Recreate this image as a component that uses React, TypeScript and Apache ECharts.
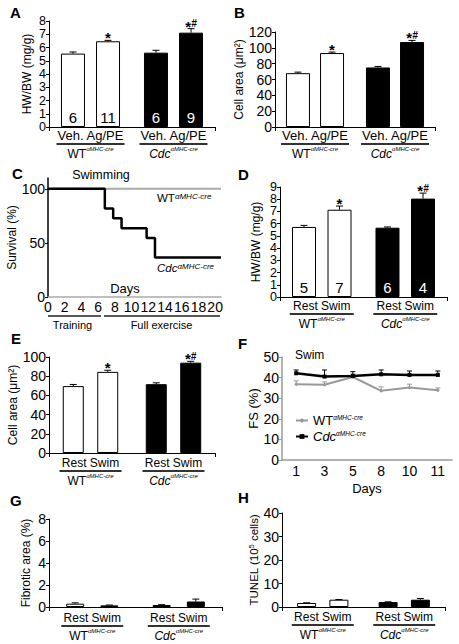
import React, { useEffect, useRef } from 'react';
import * as echarts from 'echarts';

const FONT = '"Liberation Sans", Arial, Helvetica, sans-serif';

// ---------- data ----------
const genotypes = ['WT', 'Cdc'];
const genotypeSup = 'αMHC-cre';
const agTreatments = ['Veh.', 'Ag/PE'];
const swimTreatments = ['Rest', 'Swim'];

// order: WT-first, WT-second, Cdc-first, Cdc-second
const hwbwAg = [5.54, 6.47, 5.61, 7.12];
const hwbwAgErr = [0.12, 0.07, 0.18, 0.3];
const hwbwAgN = ['6', '11', '6', '9'];
const sigMarks = ['', '*', '', '*#'];
const hwbwAgTicks = [0, 1, 2, 3, 4, 5, 6, 7, 8];

const cellAreaAg = [68, 93.4, 75.2, 107.3];
const cellAreaAgErr = [1.3, 1.2, 1.3, 2.1];

const survivalDays = [0, 6.8, 7.8, 8.8, 11.8, 12.8, 20.7];
const survivalCdc = [100, 81.8, 72.7, 63.6, 54.5, 36.4, 36.4];
const survivalWTDays = [0, 20.7];
const survivalWT = [100, 100];
const survivalDayTicks = [0, 2, 4, 6, 8, 10, 12, 14, 16, 18, 20];
const survivalTicks = [0, 50, 100];

const hwbwSwim = [5.73, 7.14, 5.67, 8.05];
const hwbwSwimErr = [0.13, 0.3, 0.06, 0.45];
const hwbwSwimN = ['5', '7', '6', '4'];
const hwbwSwimTicks = [0, 1, 2, 3, 4, 5, 6, 7, 8, 9];

const cellAreaSwim = [69.7, 84.5, 71.7, 94.1];
const cellAreaSwimErr = [1.7, 1.7, 1.4, 1.4];

const fsDays = ['1', '3', '5', '8', '10', '11'];
const fsWT = [36.8, 36.5, 40.3, 33.6, 35.2, 33.9];
const fsWTErr = [1.6, 1.4, 1.5, 1.9, 1.6, 1.1];
const fsCdc = [42.1, 40.5, 40.8, 41.6, 41.3, 41.3];
const fsCdcErr = [1.6, 3.2, 2.1, 2.1, 1.9, 1.9];

const fibrotic = [0.3, 0.15, 0.18, 0.5];
const fibroticErr = [0.08, 0.03, 0.03, 0.22];
const tunel = [1.7, 3.1, 2.1, 3.1];
const tunelErr = [0.1, 0.1, 0.1, 0.5];
const noMarks = ['', '', '', ''];

// ---------- helpers ----------
const TICK = 14;
const evens = (a: number[]) => a.filter((_, i) => i % 2 === 0);
const odds = (a: number[]) => a.filter((_, i) => i % 2 === 1);

const supRich = (gSize: number, sSize: number) => ({
  g: { fontSize: gSize, fontFamily: FONT, color: '#000' },
  gi: { fontSize: gSize, fontFamily: FONT, color: '#000', fontStyle: 'italic' },
  s: { fontSize: sSize, fontFamily: FONT, color: '#000', fontStyle: 'italic', verticalAlign: 'top', lineHeight: sSize + 1 },
});
const genoText = (g: string) => (g === 'Cdc' ? `{gi|${g}}{s|${genotypeSup}}` : `{g|${g}}{s|${genotypeSup}}`);

function catAxis(k: number, treat: string[], tSize: number, ulWidth: number, margin: number) {
  return {
    type: 'category',
    gridIndex: k,
    data: genotypes,
    axisLine: { lineStyle: { color: '#000', width: 1 } },
    axisTick: { show: true, length: 4, interval: (i: number) => i === 1, lineStyle: { color: '#000' } },
    axisLabel: {
      margin,
      interval: 0,
      formatter: (v: string) => `{t|${treat[0]} ${treat[1]}}\n{u| }\n${genoText(v)}`,
      rich: {
        t: { fontSize: tSize, lineHeight: 13, fontFamily: FONT, color: '#000' },
        u: { width: ulWidth, height: 1.8, lineHeight: 4, fontSize: 2, backgroundColor: '#333' },
        g: { fontSize: 12, lineHeight: 15, fontFamily: FONT, color: '#000' },
        gi: { fontSize: 12, lineHeight: 15, fontFamily: FONT, color: '#000', fontStyle: 'italic' },
        s: { fontSize: 6, lineHeight: 8, fontFamily: FONT, color: '#000', fontStyle: 'italic', verticalAlign: 'top' },
      },
    },
  };
}

const labelStyle = { fontSize: TICK, lineHeight: 11, color: '#000', margin: 3, fontFamily: FONT };
const tightLabelStyle = { ...labelStyle, fontSize: 12.5, lineHeight: 10 };

function valAxis(k: number, min: number, max: number, interval: number, name: string, gap: number, extra: any = {}) {
  return {
    type: 'value',
    gridIndex: k,
    position: 'left',
    min,
    max,
    interval,
    name,
    nameLocation: 'middle',
    nameGap: gap,
    nameTextStyle: { fontSize: 12, color: '#000', fontFamily: FONT },
    axisLine: { show: true, lineStyle: { color: '#000', width: 1 } },
    axisTick: { show: true, length: 3, lineStyle: { color: '#000' } },
    axisLabel: { ...labelStyle, showMinLabel: true, showMaxLabel: true },
    splitLine: { show: false },
    ...extra,
  };
}

// companion axis carrying the odd tick labels so that tightly packed labels all show
function labelOnlyAxis(k: number, min: number, max: number, interval: number, values: number[], style: any) {
  return {
    type: 'value',
    gridIndex: k,
    position: 'left',
    offset: 0,
    min,
    max,
    interval,
    axisLine: { show: false },
    axisTick: { show: false },
    splitLine: { show: false },
    axisLabel: { ...style, customValues: values },
  };
}

function barSeries(k: number, values: number[], nLabels: string[] | null, barWidth: number, gapRatio: number) {
  return [0, 1].map((j) => ({
    type: 'bar',
    xAxisIndex: k,
    yAxisIndex: k,
    barWidth,
    barGap: `${gapRatio * 100}%`,
    data: [0, 1].map((g) => ({
      value: values[g * 2 + j],
      itemStyle: { color: g === 0 ? '#fff' : '#000', borderColor: '#000', borderWidth: 1 },
      label: {
        show: !!nLabels,
        position: 'insideBottom',
        distance: 2,
        fontSize: 15,
        fontFamily: FONT,
        color: g === 0 ? '#000' : '#fff',
        formatter: () => (nLabels ? nLabels[g * 2 + j] : ''),
      },
    })),
  }));
}

function barErrorSeries(k: number, values: number[], errs: number[], marks: string[], barWidth: number, gapRatio: number) {
  return {
    type: 'custom',
    xAxisIndex: k,
    yAxisIndex: k,
    z: 5,
    silent: true,
    data: values.map((v, i) => [Math.floor(i / 2), i % 2, v, errs[i]]),
    renderItem: (params: any, api: any) => {
      const cat = api.value(0);
      const j = api.value(1);
      const v = api.value(2);
      const e = api.value(3);
      const half = (barWidth * (1 + gapRatio)) / 2;
      const base = api.coord([cat, v]);
      const top = api.coord([cat, v + e]);
      const x = base[0] + (j === 0 ? -half : half);
      const children: any[] = [
        { type: 'line', shape: { x1: x, y1: base[1], x2: x, y2: top[1] }, style: { stroke: '#000', lineWidth: 1 } },
        { type: 'line', shape: { x1: x - 3.5, y1: top[1], x2: x + 3.5, y2: top[1] }, style: { stroke: '#000', lineWidth: 1 } },
      ];
      const m = marks[params.dataIndex];
      if (m) {
        const txt = m === '*#' ? '{a|*}{b|#}' : '{a|*}';
        children.push({
          type: 'text',
          style: {
            text: txt,
            x,
            y: top[1] + 5,
            align: 'center',
            verticalAlign: 'bottom',
            rich: {
              a: { fontSize: 15, fontWeight: 'bold', fontFamily: FONT, fill: '#000' },
              b: { fontSize: 10, fontWeight: 'bold', fontStyle: 'italic', fontFamily: FONT, fill: '#000', verticalAlign: 'top' },
            },
          },
        });
      }
      return { type: 'group', children };
    },
  };
}

function lineErrorSeries(k: number, values: number[], errs: number[], color: string) {
  return {
    type: 'custom',
    xAxisIndex: k,
    yAxisIndex: k,
    z: 1,
    silent: true,
    data: values.map((v, i) => [i, v, errs[i]]),
    renderItem: (_p: any, api: any) => {
      const base = api.coord([api.value(0), api.value(1)]);
      const top = api.coord([api.value(0), api.value(1) + api.value(2)]);
      return {
        type: 'group',
        children: [
          { type: 'line', shape: { x1: base[0], y1: base[1], x2: base[0], y2: top[1] }, style: { stroke: color, lineWidth: 1 } },
          { type: 'line', shape: { x1: base[0] - 2.5, y1: top[1], x2: base[0] + 2.5, y2: top[1] }, style: { stroke: color, lineWidth: 1 } },
        ],
      };
    },
  };
}

const letter = (t: string, x: number, y: number) => ({
  type: 'text',
  x,
  y,
  style: { text: t, fontSize: 15, fontWeight: 'bold', fontFamily: FONT, fill: '#000', verticalAlign: 'middle' },
});

const text = (t: string, x: number, y: number, size: number, align = 'center', extra: any = {}) => ({
  type: 'text',
  x,
  y,
  style: { text: t, fontSize: size, fontFamily: FONT, fill: '#000', align, verticalAlign: 'middle', ...extra },
});

function buildOption() {
  const grids = [
    { left: 49, top: 21, width: 166, height: 106 }, // A
    { left: 275, top: 32, width: 160, height: 95 }, // B
    { left: 48, top: 178, width: 173, height: 119 }, // C
    { left: 280, top: 187, width: 167, height: 110 }, // D
    { left: 49, top: 357, width: 166, height: 96 }, // E
    { left: 282, top: 357, width: 170, height: 103 }, // F
    { left: 49, top: 519, width: 173, height: 88 }, // G
    { left: 282, top: 513, width: 163, height: 94 }, // H
  ];

  const xAxis = [
    catAxis(0, agTreatments, 13, 68, 2),
    catAxis(1, agTreatments, 13, 68, 2),
    {
      type: 'value',
      gridIndex: 2,
      min: 0,
      max: 20.7,
      interval: 2,
      axisLine: { lineStyle: { color: '#aaa', width: 1.5 } },
      axisTick: { show: false },
      axisLabel: { fontSize: TICK, color: '#000', margin: 3, fontFamily: FONT, customValues: survivalDayTicks },
      splitLine: { show: false },
    },
    catAxis(3, swimTreatments, 12, 64, 2),
    catAxis(4, swimTreatments, 12, 62, 3),
    {
      type: 'category',
      gridIndex: 5,
      data: fsDays,
      name: 'Days',
      nameLocation: 'middle',
      nameGap: 22,
      nameTextStyle: { fontSize: 13, color: '#000', fontFamily: FONT },
      axisLine: { lineStyle: { color: '#999', width: 1.5 } },
      axisTick: { show: false },
      axisLabel: { fontSize: TICK, color: '#000', margin: 4, fontFamily: FONT },
    },
    catAxis(6, swimTreatments, 12, 62, 4),
    catAxis(7, swimTreatments, 12, 62, 3),
  ];

  const yAxis = [
    valAxis(0, 0, 8, 1, 'HW/BW (mg/g)', 16, {
      axisLabel: { ...tightLabelStyle, customValues: evens(hwbwAgTicks) },
    }),
    valAxis(1, 0, 120, 20, 'Cell area (μm²)', 30),
    valAxis(2, 0, 110, 50, 'Survival (%)', 24, {
      axisLabel: { ...labelStyle, customValues: survivalTicks },
      axisTick: { show: true, length: 3, lineStyle: { color: '#000' }, customValues: survivalTicks },
      axisLine: { show: true, lineStyle: { color: '#000', width: 1.5 } },
    }),
    valAxis(3, 0, 9, 1, 'HW/BW (mg/g)', 18, {
      axisLabel: { ...tightLabelStyle, customValues: evens(hwbwSwimTicks) },
    }),
    valAxis(4, 0, 100, 20, 'Cell area (μm²)', 29),
    valAxis(5, 0, 50, 10, 'FS (%)', 22, {
      nameTextStyle: { fontSize: 13, color: '#000', fontFamily: FONT },
      axisLine: { show: true, lineStyle: { color: '#999', width: 1.5 } },
      axisTick: { show: true, length: 3, lineStyle: { color: '#999' } },
    }),
    valAxis(6, 0, 8, 2, 'Fibrotic area (%)', 17),
    valAxis(7, 0, 40, 10, 'TUNEL (10{sup|5} cells)', 20, {
      nameTextStyle: {
        fontSize: 11.5,
        color: '#000',
        fontFamily: FONT,
        rich: { sup: { fontSize: 7, fontFamily: FONT, color: '#000', verticalAlign: 'top' } },
      },
    }),
    labelOnlyAxis(0, 0, 8, 1, odds(hwbwAgTicks), tightLabelStyle),
    labelOnlyAxis(3, 0, 9, 1, odds(hwbwSwimTicks), tightLabelStyle),
  ];

  const series: any[] = [
    ...barSeries(0, hwbwAg, hwbwAgN, 24, 0.46),
    barErrorSeries(0, hwbwAg, hwbwAgErr, sigMarks, 24, 0.46),
    ...barSeries(1, cellAreaAg, null, 24, 0.42),
    barErrorSeries(1, cellAreaAg, cellAreaAgErr, sigMarks, 24, 0.42),
    {
      type: 'line',
      xAxisIndex: 2,
      yAxisIndex: 2,
      data: survivalWTDays.map((d, i) => [d, survivalWT[i]]),
      symbol: 'none',
      lineStyle: { color: '#aaa', width: 2 },
      z: 2,
    },
    {
      type: 'line',
      xAxisIndex: 2,
      yAxisIndex: 2,
      step: 'end',
      data: survivalDays.map((d, i) => [d, survivalCdc[i]]),
      symbol: 'none',
      lineStyle: { color: '#000', width: 2.5 },
      z: 3,
    },
    ...barSeries(3, hwbwSwim, hwbwSwimN, 24, 0.48),
    barErrorSeries(3, hwbwSwim, hwbwSwimErr, sigMarks, 24, 0.48),
    ...barSeries(4, cellAreaSwim, null, 21, 0.64),
    barErrorSeries(4, cellAreaSwim, cellAreaSwimErr, sigMarks, 21, 0.64),
    lineErrorSeries(5, fsWT, fsWTErr, '#999'),
    lineErrorSeries(5, fsCdc, fsCdcErr, '#000'),
    {
      name: 'WT',
      type: 'line',
      xAxisIndex: 5,
      yAxisIndex: 5,
      data: fsWT,
      symbol: 'diamond',
      symbolSize: 4,
      lineStyle: { color: '#999', width: 2 },
      itemStyle: { color: '#999' },
      z: 3,
    },
    {
      name: 'Cdc',
      type: 'line',
      xAxisIndex: 5,
      yAxisIndex: 5,
      data: fsCdc,
      symbol: 'rect',
      symbolSize: 4,
      lineStyle: { color: '#000', width: 2.5 },
      itemStyle: { color: '#000' },
      z: 4,
    },
    ...barSeries(6, fibrotic, null, 18, 0.9),
    barErrorSeries(6, fibrotic, fibroticErr, noMarks, 18, 0.9),
    ...barSeries(7, tunel, null, 19, 0.7),
    barErrorSeries(7, tunel, tunelErr, noMarks, 19, 0.7),
  ];

  const graphic: any[] = [
    letter('A', 10, 12),
    letter('B', 234, 12),
    letter('C', 12, 173),
    letter('D', 238, 174),
    letter('E', 11, 338),
    letter('F', 238, 343),
    letter('G', 10, 500),
    letter('H', 238, 497),
    text('Swimming', 101, 175, 12.5),
    {
      type: 'text',
      x: 157,
      y: 198,
      style: { text: genoText('WT'), rich: supRich(11.5, 8), verticalAlign: 'middle', fontFamily: FONT },
    },
    {
      type: 'text',
      x: 157,
      y: 268,
      style: { text: genoText('Cdc'), rich: supRich(11.5, 8), verticalAlign: 'middle', fontFamily: FONT },
    },
    text('Days', 125, 288, 13),
    { type: 'line', shape: { x1: 48, y1: 316, x2: 101, y2: 316 }, style: { stroke: '#222', lineWidth: 1.5 } },
    { type: 'line', shape: { x1: 104, y1: 316, x2: 220, y2: 316 }, style: { stroke: '#222', lineWidth: 1.5 } },
    text('Training', 72.5, 325, 11),
    text('Full exercise', 161.5, 325, 11),
    text('Swim', 295, 355, 12, 'left'),
  ];

  return {
    animation: false,
    backgroundColor: '#fff',
    textStyle: { fontFamily: FONT },
    grid: grids,
    xAxis,
    yAxis,
    series,
    graphic,
    legend: {
      data: ['WT', 'Cdc'],
      orient: 'vertical',
      left: 290,
      top: 409,
      itemGap: 3,
      itemWidth: 12,
      itemHeight: 6,
      formatter: (n: string) => genoText(n),
      textStyle: { fontSize: 13, fontFamily: FONT, color: '#000', rich: supRich(13, 6.5) },
    },
  };
}

export default function App() {
  const ref = useRef<HTMLDivElement>(null);
  useEffect(() => {
    const chart = echarts.init(ref.current!, null, { renderer: 'svg' });
    chart.setOption(buildOption() as any);
    return () => chart.dispose();
  }, []);
  return (
    <div
      ref={ref}
      style={{ position: 'absolute', left: 0, top: 0, width: 459, height: 644, background: '#fff' }}
    />
  );
}
